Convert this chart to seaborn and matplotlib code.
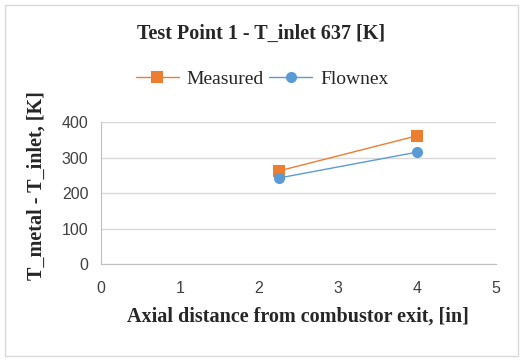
import pandas as pd
import numpy as np
import matplotlib.pyplot as plt
import seaborn as sns
from matplotlib.patches import Rectangle

# data
axial_pos = [2.25, 4.0]
measured = [263, 362]
flownex = [243, 316]

series_names = ['Measured', 'Flownex']
colors = ['#ED7D31', '#5B9BD5']
x_ticks = [0, 1, 2, 3, 4, 5]
y_ticks = [0, 100, 200, 300, 400]

df = pd.DataFrame({
    'x': axial_pos * 2,
    'y': measured + flownex,
    'series': ['Measured'] * len(axial_pos) + ['Flownex'] * len(axial_pos),
})

sns.set_style('white')
plt.rcParams['font.family'] = ['Liberation Sans', 'DejaVu Sans']

fig = plt.figure(figsize=(5.22, 3.6), dpi=100)
ax = fig.add_axes([0.1935, 0.266, 0.7561, 0.394])

sns.lineplot(data=df, x='x', y='y', hue='series', style='series',
             hue_order=series_names, style_order=series_names,
             palette=colors, markers={'Measured': 's', 'Flownex': 'o'},
             dashes=False, markersize=8, markeredgewidth=0, linewidth=1,
             ax=ax, legend=False)

ax.set_xlim(0, 5)
ax.set_ylim(0, 400)
ax.set_xticks(x_ticks)
ax.set_yticks(y_ticks)
ax.yaxis.grid(True, color='#D9D9D9', linewidth=1)
ax.set_axisbelow(True)
for s in ['top', 'right']:
    ax.spines[s].set_visible(False)
for s in ['left', 'bottom']:
    ax.spines[s].set_color('#BFBFBF')
ax.tick_params(axis='both', length=0, labelsize=11.5, colors='#404040')
ax.tick_params(axis='x', pad=12)
ax.tick_params(axis='y', pad=9)

serif = ['Liberation Serif', 'DejaVu Serif']
ax.set_xlabel('Axial distance from combustor exit, [in]', fontsize=14.5,
              fontweight='bold', family=serif, labelpad=8)
ax.set_ylabel('T_metal - T_inlet, [K]', fontsize=14.5, fontweight='bold',
              family=serif)
ax.yaxis.set_label_coords(-0.137, 0.555)

fig.text(0.5, 0.905, 'Test Point 1 - T_inlet 637 [K]', ha='center', va='center',
         fontsize=14.5, fontweight='bold', family=serif)

handles = [plt.Line2D([], [], color=c, marker=m, markersize=8, markeredgewidth=0, linewidth=1)
           for c, m in zip(colors, ['s', 'o'])]
fig.legend(handles, series_names, loc='center', bbox_to_anchor=(0.502, 0.78), ncol=2,
           frameon=False, prop={'family': serif, 'size': 14},
           handlelength=2.2, handletextpad=0.4, columnspacing=0.3)

# outer chart border
fig.patches.append(Rectangle((0.01, 0.012), 0.982, 0.975, transform=fig.transFigure,
                             fill=False, edgecolor='#D9D9D9', linewidth=1))

fig.savefig('out.png', dpi=100)
